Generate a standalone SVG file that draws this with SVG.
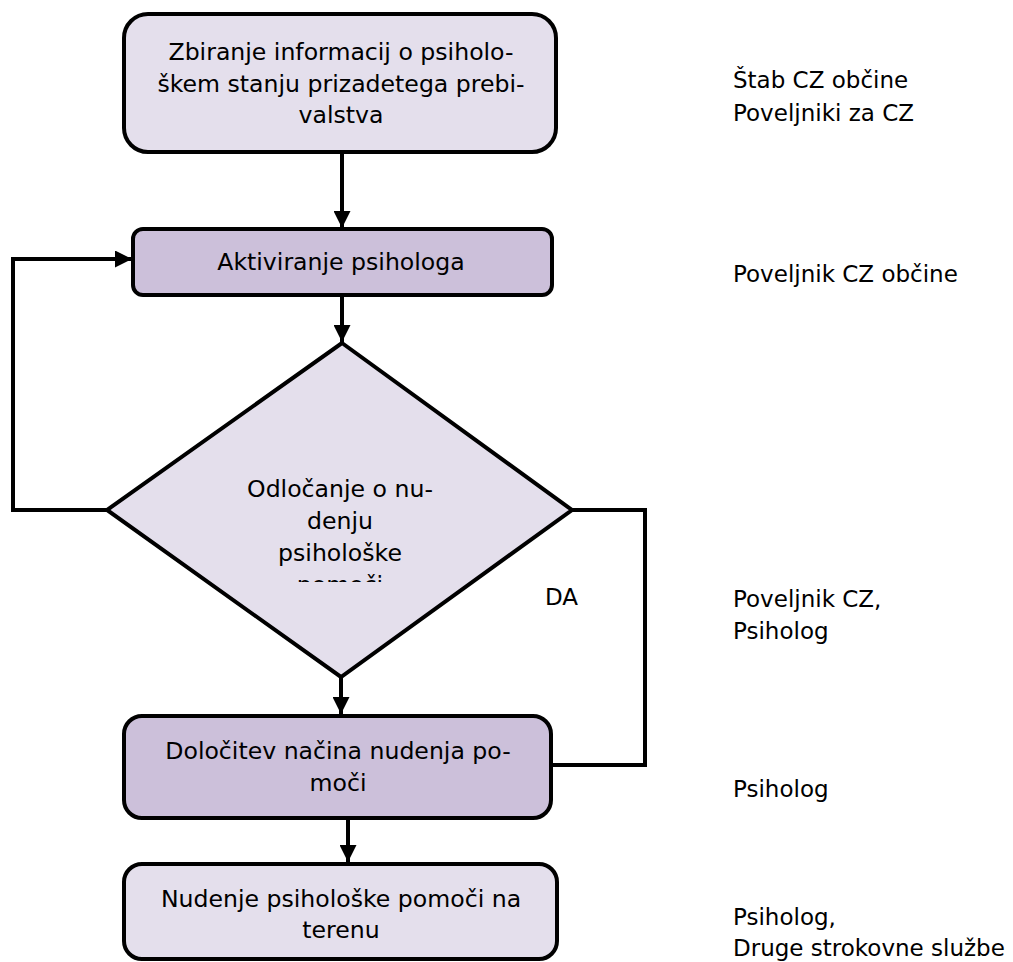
<svg xmlns="http://www.w3.org/2000/svg" width="1013" height="962" viewBox="0 0 1013 962">
<defs>
<style>
.box{stroke:#000;stroke-width:4}
.light{fill:#e4dfec}
.dark{fill:#ccc0da}
.t{font-family:"DejaVu Sans","Liberation Sans",sans-serif;font-size:23px;fill:#000}
.c{text-anchor:middle;font-size:23.6px}
.line{fill:none;stroke:#000;stroke-width:4}
</style>
<marker id="arr" markerUnits="userSpaceOnUse" markerWidth="17" markerHeight="17" viewBox="0 0 16 16" refX="16" refY="8" orient="auto">
<path d="M0,0 L16,8 L0,16 Z" fill="#000"/>
</marker>
<clipPath id="dclip"><rect x="150" y="460" width="380" height="122"/></clipPath>
</defs>
<rect width="1013" height="962" fill="#fff"/>
<g id="connectors">
<line class="line" x1="342" y1="153" x2="342" y2="228" marker-end="url(#arr)"/>
<line class="line" x1="342" y1="295" x2="342" y2="342" marker-end="url(#arr)"/>
<line class="line" x1="341" y1="677" x2="341" y2="714" marker-end="url(#arr)"/>
<line class="line" x1="348" y1="818" x2="348" y2="862" marker-end="url(#arr)"/>
<polyline class="line" points="107,510 13,510 13,259 132,259" marker-end="url(#arr)"/>
<polyline class="line" points="572,510 645,510 645,765 551,765"/>
<text class="t" x="545" y="605">DA</text>
</g>
<g id="n1">
<rect class="box light" x="124" y="14" width="432" height="138" rx="24"/>
<text class="t c" x="341" y="60">Zbiranje informacij o psiholo-</text>
<text class="t c" x="341" y="92">škem stanju prizadetega prebi-</text>
<text class="t c" x="341" y="123">valstva</text>
</g>
<g id="n2">
<rect class="box dark" x="133" y="229" width="419" height="66" rx="10"/>
<text class="t c" x="341" y="270">Aktiviranje psihologa</text>
</g>
<g id="n3">
<polygon class="box light" points="342,343 572,510 341,677 107,510"/>
<g clip-path="url(#dclip)">
<text class="t c" x="340" y="497">Odločanje o nu-</text>
<text class="t c" x="340" y="529">denju</text>
<text class="t c" x="340" y="561">psihološke</text>
<text class="t c" x="340" y="593">pomoči</text>
</g>
</g>
<g id="n4">
<rect class="box dark" x="124" y="716" width="427" height="102" rx="18"/>
<text class="t c" x="338" y="759">Določitev načina nudenja po-</text>
<text class="t c" x="338" y="791">moči</text>
</g>
<g id="n5">
<rect class="box light" x="124" y="864" width="433" height="95" rx="18"/>
<text class="t c" x="341" y="907">Nudenje psihološke pomoči na</text>
<text class="t c" x="341" y="938">terenu</text>
</g>
<g id="roles">
<text class="t" x="733" y="88">Štab CZ občine</text>
<text class="t" x="733" y="121">Poveljniki za CZ</text>
<text class="t" x="733" y="282">Poveljnik CZ občine</text>
<text class="t" x="733" y="607">Poveljnik CZ,</text>
<text class="t" x="733" y="639">Psiholog</text>
<text class="t" x="733" y="797">Psiholog</text>
<text class="t" x="733" y="925">Psiholog,</text>
<text class="t" x="733" y="956">Druge strokovne službe</text>
</g>
</svg>
